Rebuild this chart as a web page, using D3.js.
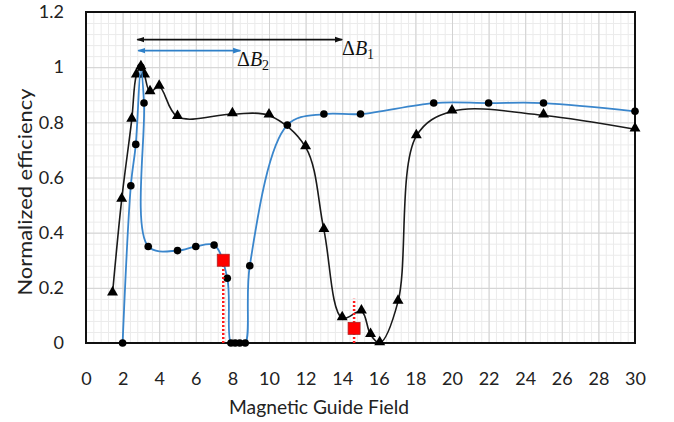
<!DOCTYPE html>
<meta charset="utf-8" />
<style>
  body { margin: 0; background: #fff; }
  svg { display: block; font-family: Lato, "Open Sans", sans-serif; }
  .tick text { font-size: 18px; fill: #222; }
  .title { font-size: 20px; fill: #222; }
  .delta { font-family: "Liberation Serif", serif; font-size: 20px; fill: #111; }
</style>
<body>
<script src="https://cdnjs.cloudflare.com/ajax/libs/d3/7.8.5/d3.min.js"></script>
<script>
// series
var blackX = [1.45, 1.95, 2.5, 2.75, 3, 3.2, 3.5, 4, 5, 8, 10, 12, 13, 14, 15.05, 15.55, 16.05, 17.05, 18.05, 20, 25, 30];
var blackY = [0.18, 0.52, 0.81, 0.97, 1.0, 0.97, 0.91, 0.93, 0.82, 0.83, 0.825, 0.71, 0.41, 0.09, 0.115, 0.03, 0, 0.15, 0.75, 0.84, 0.825, 0.775];

var blueX = [2, 2.45, 2.72, 3, 3.17, 3.4, 5, 6, 7, 7.72, 7.92, 8.15, 8.4, 8.7, 8.95, 11, 13, 15, 19, 22, 25, 30];
var blueY = [0, 0.57, 0.72, 1.0, 0.87, 0.35, 0.335, 0.35, 0.355, 0.235, 0, 0, 0, 0, 0.28, 0.79, 0.83, 0.83, 0.87, 0.87, 0.87, 0.84];

var redX = [7.5, 14.65];
var redY = [0.30, 0.053];
var redTop = [0.30, 0.16];

var arrowFrom = [2.8, 2.85];
var arrowTo = [14, 8.43];
var arrowY = [1.1, 1.06];
var arrowLabel = ["1", "2"];

var xTicks = [0, 2, 4, 6, 8, 10, 12, 14, 16, 18, 20, 22, 24, 26, 28, 30];
var yTicks = [0, 0.2, 0.4, 0.6, 0.8, 1, 1.2];
var yTickLabels = ["0", "0.2", "0.4", "0.6", "0.8", "1", "1.2"];

var W = 674, H = 422;
var pLeft = 86, pRight = 635, pTop = 12, pBottom = 343;

var x = d3.scaleLinear().domain([0, 30]).range([pLeft, pRight]);
var y = d3.scaleLinear().domain([0, 1.2]).range([pBottom, pTop]);

var svg = d3.select("body").append("svg").attr("width", W).attr("height", H);
svg.append("rect").attr("width", W).attr("height", H).attr("fill", "#fff");

// grid: minor then major
var minorX = d3.range(0, 75).map(function (i) { return +(i * 0.4).toFixed(2); });
var minorY = d3.range(0, 30).map(function (i) { return +(i * 0.04).toFixed(2); });

function grid(g, c) { g.select(".domain").remove(); g.selectAll("line").attr("stroke", c); }

svg.append("g").attr("transform", "translate(0," + pBottom + ")")
  .call(d3.axisBottom(x).tickValues(minorX).tickSize(-(pBottom - pTop)).tickFormat(""))
  .call(grid, "#ebebeb");
svg.append("g").attr("transform", "translate(" + pLeft + ",0)")
  .call(d3.axisLeft(y).tickValues(minorY).tickSize(-(pRight - pLeft)).tickFormat(""))
  .call(grid, "#ebebeb");
svg.append("g").attr("transform", "translate(0," + pBottom + ")")
  .call(d3.axisBottom(x).tickValues(xTicks).tickSize(-(pBottom - pTop)).tickFormat(""))
  .call(grid, "#d2d2d2");
svg.append("g").attr("transform", "translate(" + pLeft + ",0)")
  .call(d3.axisLeft(y).tickValues(yTicks).tickSize(-(pRight - pLeft)).tickFormat(""))
  .call(grid, "#d2d2d2");

// tick labels
function labels(g) { g.select(".domain").remove(); g.attr("font-family", null).attr("font-size", null); }
svg.append("g").attr("transform", "translate(0," + pBottom + ")")
  .call(d3.axisBottom(x).tickValues(xTicks).tickSize(0).tickPadding(29).tickFormat(d3.format("d")))
  .call(labels);
svg.append("g").attr("transform", "translate(" + pLeft + ",0)")
  .call(d3.axisLeft(y).tickValues(yTicks).tickSize(0).tickPadding(22)
    .tickFormat(function (d, i) { return yTickLabels[i]; }))
  .call(labels);

// plot frame
svg.append("rect").attr("x", pLeft).attr("y", pTop).attr("width", pRight - pLeft).attr("height", pBottom - pTop)
  .attr("fill", "none").attr("stroke", "#111").attr("stroke-width", 2);

// axis titles
svg.append("text").attr("class", "title").attr("x", 319).attr("y", 414)
  .attr("text-anchor", "middle").attr("textLength", 180).attr("lengthAdjust", "spacingAndGlyphs")
  .text("Magnetic Guide Field");
svg.append("text").attr("class", "title").attr("transform", "translate(32,192) rotate(-90)")
  .attr("text-anchor", "middle").attr("textLength", 207).attr("lengthAdjust", "spacingAndGlyphs")
  .text("Normalized efficiency");

var line = d3.line().curve(d3.curveCatmullRom.alpha(0.5))
  .x(function (d) { return x(d[0]); }).y(function (d) { return y(d[1]); });

var black = blackX.map(function (v, i) { return [v, blackY[i]]; });
var blue = blueX.map(function (v, i) { return [v, blueY[i]]; });

// black series
svg.append("path").attr("d", line(black)).attr("fill", "none").attr("stroke", "#1a1a1a").attr("stroke-width", 1.6);
svg.append("g").selectAll("path").data(black).enter().append("path")
  .attr("d", d3.symbol().type(d3.symbolTriangle).size(52))
  .attr("transform", function (d) { return "translate(" + x(d[0]) + "," + (y(d[1]) - 1) + ")"; })
  .attr("fill", "#000");

// blue series
svg.append("path").attr("d", line(blue)).attr("fill", "none").attr("stroke", "#3a86cc").attr("stroke-width", 1.8);
svg.append("g").selectAll("circle").data(blue).enter().append("circle")
  .attr("cx", function (d) { return x(d[0]); }).attr("cy", function (d) { return y(d[1]); })
  .attr("r", 3.8).attr("fill", "#000");

// red markers with dotted drop lines
redX.forEach(function (v, i) {
  svg.append("line").attr("x1", x(v)).attr("x2", x(v)).attr("y1", y(0)).attr("y2", y(redTop[i]))
    .attr("stroke", "#ff1a1a").attr("stroke-width", 2.5).attr("stroke-dasharray", "2,2");
  svg.append("rect").attr("x", x(v) - 6).attr("y", y(redY[i]) - 6).attr("width", 12).attr("height", 12)
    .attr("fill", "#ff0000").attr("stroke", "#b02020").attr("stroke-width", 0.8);
});

// arrows
var defs = svg.append("defs");
var arrowColor = ["#111", "#2f80c8"];
arrowColor.forEach(function (c, i) {
  defs.append("marker").attr("id", "ah" + i).attr("viewBox", "0 0 10 10").attr("refX", 9).attr("refY", 5)
    .attr("markerWidth", 8).attr("markerHeight", 8).attr("markerUnits", "userSpaceOnUse")
    .attr("orient", "auto-start-reverse")
    .append("path").attr("d", "M0,1.5 L10,5 L0,8.5 Z").attr("fill", c);
});
arrowFrom.forEach(function (v, i) {
  svg.append("line").attr("x1", x(v)).attr("x2", x(arrowTo[i])).attr("y1", y(arrowY[i])).attr("y2", y(arrowY[i]))
    .attr("stroke", arrowColor[i]).attr("stroke-width", 1.6)
    .attr("marker-start", "url(#ah" + i + ")").attr("marker-end", "url(#ah" + i + ")");
});
var lab = [[342, 55], [237, 66]];
lab.forEach(function (p, i) {
  var t = svg.append("text").attr("class", "delta").attr("x", p[0]).attr("y", p[1]);
  t.append("tspan").text("Δ");
  t.append("tspan").attr("font-style", "italic").text("B");
  t.append("tspan").attr("font-size", "14px").attr("dy", 4).text(arrowLabel[i]);
});
</script>
</body>
